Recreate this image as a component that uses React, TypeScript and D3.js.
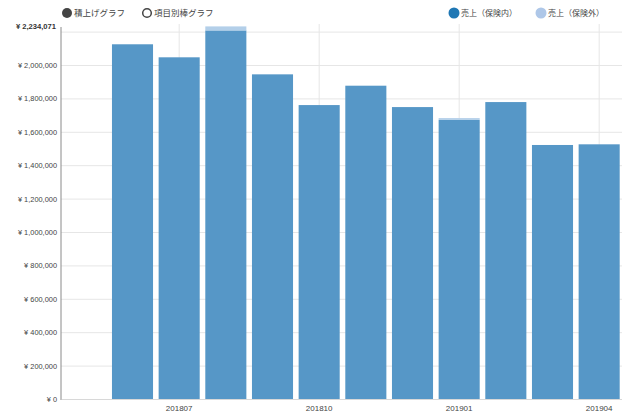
import React from "react";
import * as d3 from "d3";

const months = ["201806", "201807", "201808", "201809", "201810", "201811", "201812", "201901", "201902", "201903", "201904"];
const insured = [2127000, 2049000, 2210000, 1947000, 1763000, 1879000, 1751000, 1674000, 1781000, 1524000, 1528000];
const uninsured = [0, 0, 24071, 0, 0, 0, 0, 11000, 0, 0, 0];
const yTicks = [0, 200000, 400000, 600000, 800000, 1000000, 1200000, 1400000, 1600000, 1800000, 2000000];
const gridValues = [200000, 400000, 600000, 800000, 1000000, 1200000, 1400000, 1600000, 1800000, 2000000, 2200000];
const xTickLabels = ["201807", "201810", "201901", "201904"];
const seriesNames = ["売上（保険内）", "売上（保険外）"];
const modeNames = ["積上げグラフ", "項目別棒グラフ"];

const W = 627;
const H = 414;
const C_IN = "#5697c7";
const C_OUT = "#b3cfe9";

export default function App() {
  const totals = insured.map((v, i) => v + uninsured[i]);
  const maxV = d3.max(totals) as number;
  const x = d3.scaleBand<string>().domain(["", ...months]).range([62.5, 622.5]).paddingInner(0.12).paddingOuter(0.06);
  const y = d3.scaleLinear().domain([0, maxV]).range([399.5, 26.4]);
  const fmt = d3.format(",");
  const numFont = "'Liberation Sans', Arial, sans-serif";
  const jpFont = "'Noto Sans CJK JP', sans-serif";
  const bw = x.bandwidth();

  return (
    <svg width={W} height={H} style={{ position: "absolute", left: 0, top: 0, background: "#fff" }}>
      {gridValues.map((g) => (
        <line key={"g" + g} x1={61} x2={622} y1={y(g)} y2={y(g)} stroke="#e6e6e6" strokeWidth={1} />
      ))}
      {xTickLabels.map((m) => {
        const cx = (x(m) as number) + bw / 2;
        return <line key={"v" + m} x1={cx} x2={cx} y1={24} y2={399.5} stroke="#e6e6e6" strokeWidth={1} />;
      })}
      {months.map((m, i) => (
        <g key={m}>
          <rect x={x(m)} width={bw} y={y(insured[i])} height={y(0) - y(insured[i])} fill={C_IN} />
          {uninsured[i] > 0 && (
            <rect x={x(m)} width={bw} y={y(totals[i])} height={y(insured[i]) - y(totals[i])} fill={C_OUT} />
          )}
        </g>
      ))}
      <line x1={62} x2={622} y1={399.5} y2={399.5} stroke="#d8d8d8" strokeWidth={1} />
      <line x1={61} x2={61} y1={27} y2={400} stroke="#8a8a8a" strokeWidth={1} />
      {yTicks.map((t) => (
        <text key={"t" + t} x={57} y={y(t)} dy="0.35em" textAnchor="end" fontSize={7.4} fill="#444" fontFamily={numFont}>
          {"¥ " + fmt(t)}
        </text>
      ))}
      <text x={56} y={y(maxV)} dy="0.35em" textAnchor="end" fontSize={7.6} fontWeight="bold" fill="#333" fontFamily={numFont}>
        {"¥ " + fmt(maxV)}
      </text>
      {xTickLabels.map((m) => (
        <text key={"xl" + m} x={(x(m) as number) + bw / 2} y={411} textAnchor="middle" fontSize={8} fill="#444" fontFamily={numFont}>
          {m}
        </text>
      ))}
      <circle cx={67} cy={13} r={5} fill="#444" />
      <text x={74} y={13} dy="0.35em" fontSize={8.5} fill="#444" fontFamily={jpFont}>{modeNames[0]}</text>
      <circle cx={147} cy={13} r={4.3} fill="#fff" stroke="#444" strokeWidth={1.5} />
      <text x={154} y={13} dy="0.35em" fontSize={8.5} fill="#444" fontFamily={jpFont}>{modeNames[1]}</text>
      <circle cx={454} cy={13} r={5.5} fill="#1f77b4" />
      <text x={461} y={13} dy="0.35em" fontSize={8} fill="#444" fontFamily={jpFont}>{seriesNames[0]}</text>
      <circle cx={541} cy={13} r={5.5} fill="#aec7e8" />
      <text x={548} y={13} dy="0.35em" fontSize={8} fill="#444" fontFamily={jpFont}>{seriesNames[1]}</text>
    </svg>
  );
}
